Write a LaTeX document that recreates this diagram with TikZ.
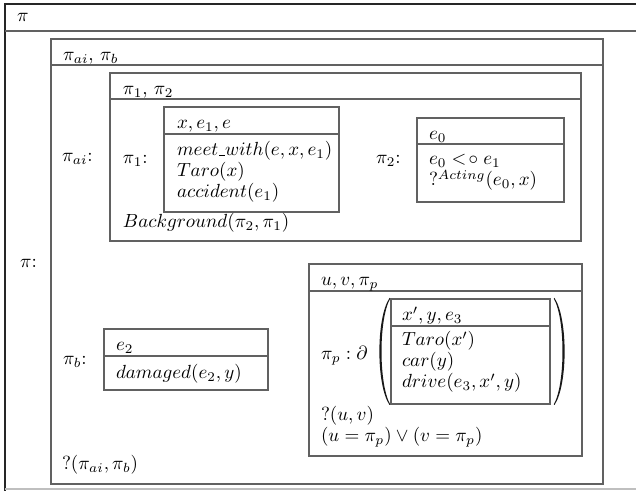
\documentclass[tikz,border=0pt]{standalone}
\usepackage{amsmath}
\newcommand\drsbox[5]{%
  \draw[box] (#1,#2) rectangle (#3,#5);
  \draw[box] (#1,#4) -- (#3,#4);}
\newcommand\shortus{\mbox{\kern.06em\vbox{\hrule width.3em}}}
\begin{document}
\begin{tikzpicture}[x=0.526pt,y=-0.526pt,
  box/.style={draw=black!62, line width=0.9pt},
  lbl/.style={anchor=base west, inner sep=0pt, outer sep=0pt},
  parenfill/.style={fill=black!90}]
\useasboundingbox (0,0) rectangle (636,491);
\fill[white] (0,0) rectangle (636,491);
% outermost box (cut by the frame on right)
\draw[black!85, line width=0.7pt] (636,4) -- (5,4) -- (5,491);
\draw[black!25, line width=0.7pt] (5,489) -- (636,489);
\draw[box] (5,31) -- (636,31);
\node[lbl] (tpi) at (17,22) {$\pi$};
\node[lbl] (lpi) at (20,268) {$\pi$:};
% pi_ai, pi_b box
\drsbox{51}{39}{603}{65}{484}
\node[lbl] (tab) at (63,61) {$\pi_{ai}$, $\pi_b$};
\node[lbl] (lai) at (62,162) {$\pi_{ai}$:};
% pi_1, pi_2 box
\drsbox{110}{73}{581}{99}{241}
\node[lbl] (t12) at (123,95) {$\pi_1$, $\pi_2$};
\node[lbl] (l1) at (123,164) {$\pi_1$:};
\drsbox{164}{107}{339}{134}{212}
\node[lbl] (c0) at (177,129) {$x,e_1,e$};
\node[lbl] (c1) at (177,156) {$meet\shortus with(e,x,e_1)$};
\node[lbl] (c2) at (177,177) {$Taro(x)$};
\node[lbl] (c3) at (177,198) {$accident(e_1)$};
\node[lbl] (bg) at (123,228) {$Background(\pi_2,\pi_1)$};
\node[lbl] (l2) at (376,164) {$\pi_2$:};
\drsbox{417}{118}{564}{144}{202}
\node[lbl] (d0) at (429,140) {$e_0$};
\node[lbl] (d1) at (429,165) {$e_0 \mathrel{<\!\circ} e_1$};
\node[lbl] (d2) at (429,186) {$?^{Acting}(e_0,x)$};
% pi_b
\node[lbl] (lb) at (63,365) {$\pi_b$:};
\drsbox{104}{329}{268}{356}{390}
\node[lbl] (g0) at (116,351) {$e_2$};
\node[lbl] (g1) at (116,379) {$damaged(e_2,y)$};
\node[lbl] (q) at (62,470) {$?(\pi_{ai},\pi_b)$};
% u, v, pi_p box
\drsbox{309}{264}{582}{291}{456}
\node[lbl] (e0) at (321,286) {$u,v,\pi_p$};
\node[lbl] (pp) at (321,360) {$\pi_p:\partial$};
% big parentheses round the inner box
\fill[parenfill] (389.5,298) .. controls (376,318) and (376,385) .. (389.5,405)
   -- (390.2,404.4) .. controls (378.6,384) and (378.6,319) .. (390.2,298.6) -- cycle;
\fill[parenfill] (554.5,298) .. controls (568,318) and (568,385) .. (554.5,405)
   -- (553.8,404.4) .. controls (565.4,384) and (565.4,319) .. (553.8,298.6) -- cycle;
\drsbox{391}{299}{550}{326}{404}
\node[lbl] (f0) at (402,321) {$x',y,e_3$};
\node[lbl] (f1) at (402,346) {$Taro(x')$};
\node[lbl] (f2) at (402,367) {$car(y)$};
\node[lbl] (f3) at (402,388) {$drive(e_3,x',y)$};
\node[lbl] (e1) at (321,421) {$?(u,v)$};
\node[lbl] (e2) at (321,442) {$(u=\pi_p)\vee(v=\pi_p)$};
\end{tikzpicture}
\end{document}
